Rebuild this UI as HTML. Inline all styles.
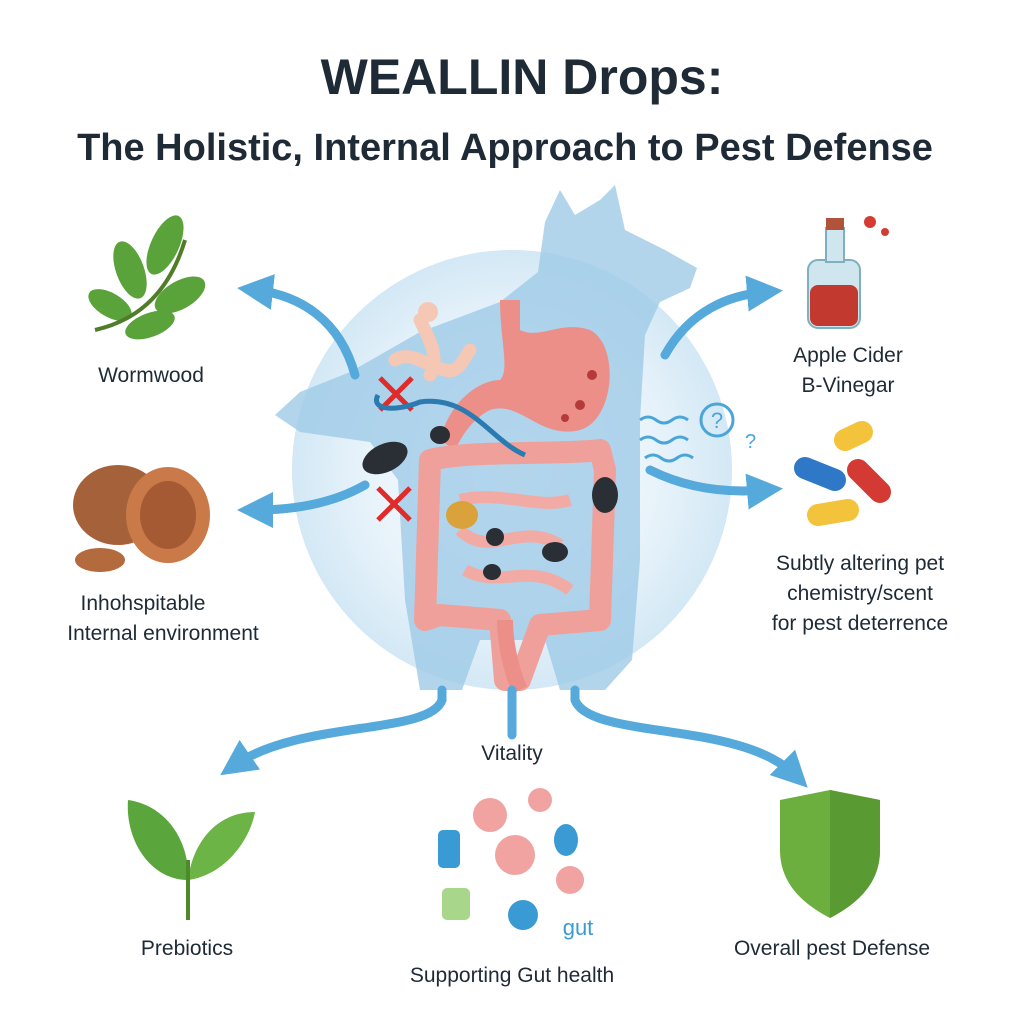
<!DOCTYPE html>
<html><head><meta charset="utf-8"><style>
html,body{margin:0;padding:0;background:#fff;}
svg{display:block}
text{font-family:"Liberation Sans",sans-serif;fill:#1e2a36}
</style></head><body>
<svg width="1024" height="1024" viewBox="0 0 1024 1024" xmlns="http://www.w3.org/2000/svg">
<defs>
<radialGradient id="bg" cx="0.5" cy="0.5" r="0.5">
<stop offset="0" stop-color="#ffffff"/><stop offset="0.7" stop-color="#e6f2fa"/><stop offset="1" stop-color="#d3e8f5"/>
</radialGradient>
<marker id="ah" markerWidth="4" markerHeight="4" refX="2" refY="2" orient="auto" markerUnits="strokeWidth"><path d="M0,0 L4,2 L0,4 Z" fill="#55a9db"/></marker>
</defs>
<text x="522" y="94" text-anchor="middle" font-size="50" font-weight="bold">WEALLIN Drops:</text>
<text x="505" y="160" text-anchor="middle" font-size="38" font-weight="bold" fill="#22313f">The Holistic, Internal Approach to Pest Defense</text>

<circle cx="512" cy="470" r="220" fill="url(#bg)"/>
<path d="M560,190 L575,215 L600,200 L615,185 L625,230 L665,250 L697,268 L690,288 L660,302 L645,335 L640,420 L640,560 L632,660 L605,690 L560,690 L545,640 L480,640 L462,690 L420,690 L405,600 L398,480 L370,442 L300,432 L275,415 L300,392 L350,372 L420,332 L500,302 L538,272 L545,222 Z" fill="#9fcbe7" opacity="0.8"/>

<path d="M500,300 L520,300 L520,330 C540,340 560,320 590,330 C620,345 615,420 580,430 C540,440 520,400 490,410 C470,420 460,440 455,450 L440,440 C450,400 480,380 500,380 C510,370 500,340 500,300 Z" fill="#ec8f88"/>
<circle cx="592" cy="375" r="5" fill="#b53a3a"/><circle cx="580" cy="405" r="5" fill="#b53a3a"/><circle cx="565" cy="418" r="4" fill="#b53a3a"/>
<path d="M430,460 C470,450 560,455 600,450 L605,470 L600,620 L540,625 L520,680 L505,680 L500,620 L440,615 L425,620 Z" fill="none" stroke="#f0a09a" stroke-width="22" stroke-linejoin="round"/>
<path d="M460,500 C500,490 540,510 570,500 M460,530 C490,560 520,520 560,545 M465,570 C500,590 530,560 570,590" fill="none" stroke="#f2aaa4" stroke-width="12"/>
<path d="M505,620 C505,650 515,680 520,690" stroke="#ec8f88" stroke-width="16" fill="none"/>
<path d="M420,320 C430,340 440,360 430,375 M395,360 C410,350 425,365 445,370 C460,375 465,355 470,350" stroke="#f5c7b5" stroke-width="13" fill="none" stroke-linecap="round"/>
<circle cx="428" cy="312" r="10" fill="#f5c7b5"/>
<ellipse cx="385" cy="458" rx="24" ry="14" fill="#2a2e35" transform="rotate(-25 385 458)"/>
<ellipse cx="440" cy="435" rx="10" ry="9" fill="#2a2e35"/>
<ellipse cx="605" cy="495" rx="13" ry="18" fill="#2a2e35"/>
<ellipse cx="555" cy="552" rx="13" ry="10" fill="#2a2e35"/>
<ellipse cx="495" cy="537" rx="9" ry="9" fill="#2a2e35"/>
<ellipse cx="492" cy="572" rx="9" ry="8" fill="#2a2e35"/>
<ellipse cx="462" cy="515" rx="16" ry="14" fill="#d9a23a"/>
<path d="M380,378 L412,410 M412,378 L380,410 M378,488 L410,520 M410,488 L378,520" stroke="#e02b2b" stroke-width="5"/>
<path d="M378,395 C370,410 395,412 420,402 C470,395 490,440 525,455" stroke="#2b7bb0" stroke-width="5" fill="none"/>
<path d="M640,420 q8,-6 16,0 t16,0 t16,0 M640,440 q8,-6 16,0 t16,0 t16,0 M645,458 q8,-6 16,0 t16,0 t16,0" stroke="#4aa6d8" stroke-width="3" fill="none"/>
<circle cx="717" cy="420" r="16" fill="none" stroke="#4aa6d8" stroke-width="3"/><text x="717" y="428" text-anchor="middle" font-size="22" style="fill:#4aa6d8">?</text>
<text x="745" y="448" font-size="20" style="fill:#4aa6d8">?</text>

<g stroke="#55a9db" stroke-width="9" fill="none" stroke-linecap="round">
<path d="M355,375 C340,320 300,295 255,290" marker-end="url(#ah)"/>
<path d="M365,485 C330,505 290,510 255,510" marker-end="url(#ah)"/>
<path d="M665,355 C690,310 730,295 765,292" marker-end="url(#ah)"/>
<path d="M650,470 C690,490 730,493 765,490" marker-end="url(#ah)"/>
<path d="M442,690 L442,700 C430,735 300,720 235,765" marker-end="url(#ah)"/>
<path d="M575,690 L575,700 C590,740 740,720 795,775" marker-end="url(#ah)"/>
<path d="M512,690 L512,735"/>
</g>

<g fill="#5aa23a"><ellipse cx="130" cy="270" rx="14" ry="30" transform="rotate(-20 130 270)"/><ellipse cx="165" cy="245" rx="14" ry="32" transform="rotate(25 165 245)"/><ellipse cx="180" cy="295" rx="14" ry="28" transform="rotate(60 180 295)"/><ellipse cx="110" cy="305" rx="12" ry="24" transform="rotate(-60 110 305)"/><ellipse cx="150" cy="325" rx="12" ry="26" transform="rotate(70 150 325)"/></g>
<path d="M95,330 C140,320 170,290 185,240" stroke="#4f7d2a" stroke-width="4" fill="none"/>
<text x="151" y="382" text-anchor="middle" font-size="21">Wormwood</text>
<ellipse cx="118" cy="505" rx="45" ry="40" fill="#a5623a"/><ellipse cx="168" cy="515" rx="42" ry="48" fill="#c97a48"/><ellipse cx="168" cy="515" rx="28" ry="34" fill="#a65a33"/>
<ellipse cx="100" cy="560" rx="25" ry="12" fill="#b36a3c"/>
<text x="143" y="610" text-anchor="middle" font-size="21">Inhohspitable</text>
<text x="163" y="640" text-anchor="middle" font-size="21">Internal environment</text>
<rect x="808" y="260" width="52" height="68" rx="10" fill="#cfe6ee" stroke="#7fb0c0" stroke-width="2"/>
<rect x="810" y="285" width="48" height="41" rx="8" fill="#c2392f"/>
<rect x="826" y="228" width="18" height="34" fill="#cfe6ee" stroke="#7fb0c0" stroke-width="2"/>
<rect x="826" y="218" width="18" height="12" fill="#b0533a"/>
<circle cx="870" cy="222" r="6" fill="#d43b32"/><circle cx="885" cy="232" r="4" fill="#d43b32"/>
<text x="848" y="362" text-anchor="middle" font-size="21">Apple Cider</text>
<text x="848" y="392" text-anchor="middle" font-size="21">B-Vinegar</text>
<g stroke-linecap="round" stroke-width="22">
<line x1="805" y1="468" x2="835" y2="480" stroke="#2f78c8"/><line x1="845" y1="440" x2="862" y2="432" stroke="#f3c33b"/>
<line x1="858" y1="470" x2="880" y2="492" stroke="#d33a33"/><line x1="818" y1="515" x2="848" y2="510" stroke="#f3c33b"/>
</g>
<text x="860" y="570" text-anchor="middle" font-size="21">Subtly altering pet</text>
<text x="860" y="600" text-anchor="middle" font-size="21">chemistry/scent</text>
<text x="860" y="630" text-anchor="middle" font-size="21">for pest deterrence</text>

<text x="512" y="760" text-anchor="middle" font-size="21">Vitality</text>
<path d="M188,880 C150,880 125,840 128,800 C165,805 190,840 188,880 Z" fill="#5aa63c"/>
<path d="M188,880 C225,875 250,840 255,812 C215,812 192,845 188,880 Z" fill="#6cb446"/>
<line x1="188" y1="860" x2="188" y2="920" stroke="#4f8a2a" stroke-width="4"/>
<text x="187" y="955" text-anchor="middle" font-size="21">Prebiotics</text>
<g fill="#f0a3a0"><circle cx="490" cy="815" r="17"/><circle cx="540" cy="800" r="12"/><circle cx="515" cy="855" r="20"/><circle cx="570" cy="880" r="14"/></g>
<rect x="438" y="830" width="22" height="38" rx="5" fill="#3a9bd4"/>
<rect x="442" y="888" width="28" height="32" rx="5" fill="#a8d68a"/>
<circle cx="523" cy="915" r="15" fill="#3a9bd4"/><ellipse cx="566" cy="840" rx="12" ry="16" fill="#3a9bd4"/>
<text x="578" y="935" text-anchor="middle" font-size="22" style="fill:#3a9bd4">gut</text>
<text x="512" y="982" text-anchor="middle" font-size="21">Supporting Gut health</text>
<path d="M780,800 L830,790 L880,800 L880,850 C880,885 855,905 830,918 C805,905 780,885 780,850 Z" fill="#6caf3e"/>
<path d="M830,790 L880,800 L880,850 C880,885 855,905 830,918 Z" fill="#5a9a33"/>
<text x="832" y="955" text-anchor="middle" font-size="21">Overall pest Defense</text>
</svg>
</body></html>
